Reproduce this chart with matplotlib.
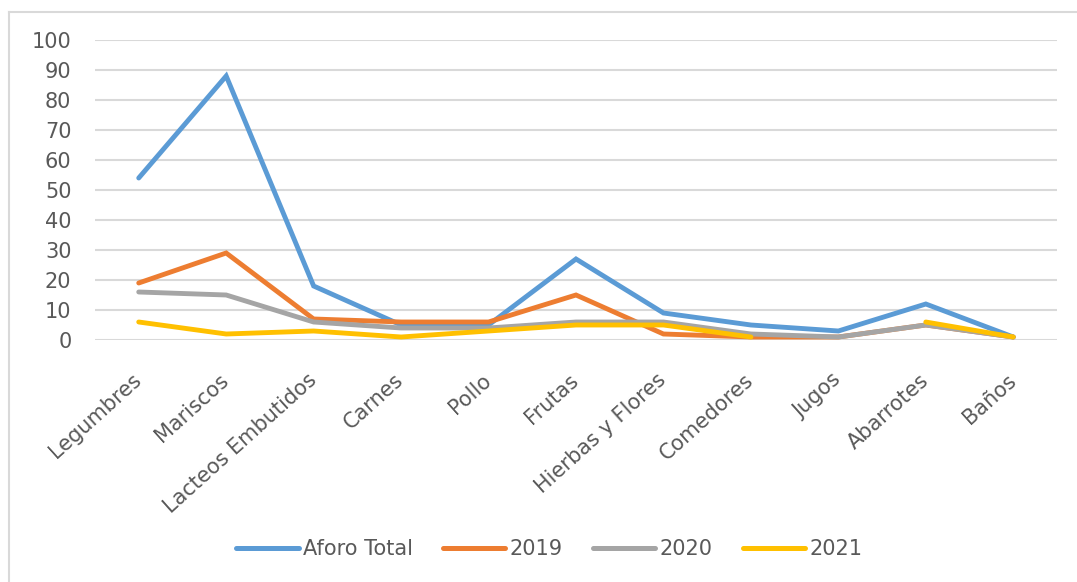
import matplotlib
matplotlib.use("Agg")
from matplotlib import pyplot as plt
from matplotlib.lines import Line2D
import numpy as np

categorias = ["Legumbres", "Mariscos", "Lacteos Embutidos", "Carnes", "Pollo", "Frutas",
              "Hierbas y Flores", "Comedores", "Jugos", "Abarrotes", "Baños"]
aforo_total = [54, 88, 18, 5, 5, 27, 9, 5, 3, 12, 1]
anio_2019 = [19, 29, 7, 6, 6, 15, 2, 1, 1, 5, 1]
anio_2020 = [16, 15, 6, 4, 4, 6, 6, 2, 1, 5, 1]
anio_2021 = [6, 2, 3, 1, 3, 5, 5, 1, np.nan, 6, 1]

plt.rcParams['font.family'] = ['DejaVu Sans']

fig = plt.figure(figsize=(10.77, 5.82), dpi=100)
ax = fig.add_axes([95/1077, 1 - 340/582, 962/1077, 300/582])

x = np.arange(len(categorias))
series = [("Aforo Total", aforo_total, "#5B9BD5"),
          ("2019", anio_2019, "#ED7D31"),
          ("2020", anio_2020, "#A5A5A5"),
          ("2021", anio_2021, "#FFC000")]
for nombre, vals, color in series:
    ax.plot(x, vals, color=color, lw=3.5, label=nombre, solid_capstyle="round",
            solid_joinstyle="miter")

ax.set_xlim(-0.5, len(categorias) - 0.5)
ax.set_ylim(0, 100)
ax.set_yticks(range(0, 101, 10))
ax.grid(axis="y", color="#D9D9D9", lw=1.5)
ax.set_axisbelow(True)
for s in ax.spines.values():
    s.set_visible(False)
ax.tick_params(length=0, labelsize=15, labelcolor="#595959")
ax.tick_params(axis="y", pad=17)
ax.tick_params(axis="x", pad=27)
ax.set_xticks(x)
ax.set_xticklabels(categorias, rotation=42, ha="right", va="center", rotation_mode="anchor")

leg = fig.legend(loc="center", bbox_to_anchor=(0.51, 1 - 549/582), ncol=4, frameon=False,
                 fontsize=15, handlelength=3.0, columnspacing=1.45, handletextpad=0.2)
for t in leg.get_texts():
    t.set_color("#595959")
for h in leg.legend_handles:
    h.set_linewidth(3.6)

# marco del grafico (solo bordes izquierdo y superior visibles)
borde = "#D9D9D9"
fig.add_artist(Line2D([9/1077, 9/1077], [0, 1 - 12/582], transform=fig.transFigure,
                      color=borde, lw=1.5))
fig.add_artist(Line2D([9/1077, 1], [1 - 12/582, 1 - 12/582], transform=fig.transFigure,
                      color=borde, lw=1.5))

fig.savefig("out.png", dpi=100)
